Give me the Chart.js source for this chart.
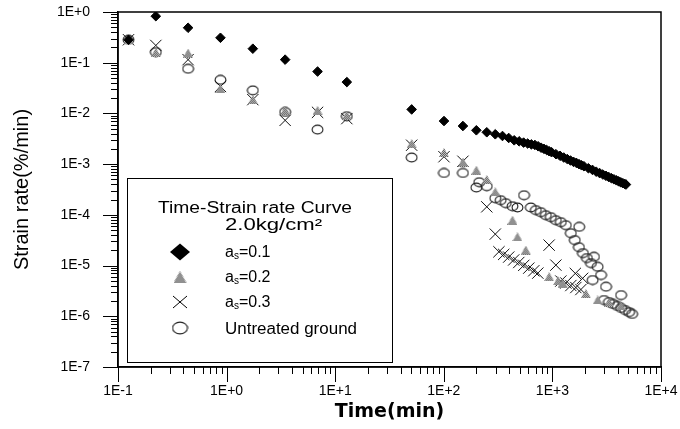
<!DOCTYPE html>
<html>
<head>
<meta charset="utf-8">
<script src="https://cdn.jsdelivr.net/npm/chart.js@4.4.0/dist/chart.umd.min.js"></script>
<style>
  html, body { margin: 0; padding: 0; background: #fff; }
</style>
</head>
<body>
<canvas id="chart" width="680" height="429"></canvas>
<script>
// Time (min) and strain rate (%/min)
var t01 = [0.125, 0.223, 0.442, 0.878, 1.744, 3.46, 6.88, 12.8, 50.6, 100.4, 150, 199.4, 248.7,
  297.9, 347, 396, 445, 494, 543, 592, 641, 690, 739, 787, 836, 885, 933, 982, 1079, 1176, 1273,
  1370, 1467, 1564, 1661, 1758, 1855, 1951, 2145, 2338, 2531, 2724, 2917, 3109, 3302, 3494,
  3687, 3879, 4071, 4263, 4455, 4647, 4758];
var v01 = [0.284, 0.826, 0.489, 0.31, 0.189, 0.115, 0.067, 0.0415, 0.012, 0.00708, 0.00565,
  0.00465, 0.00425, 0.00388, 0.00359, 0.00328, 0.00295, 0.00282, 0.00266, 0.00255, 0.00245,
  0.00239, 0.00225, 0.00211, 0.002, 0.0019, 0.0018, 0.00172, 0.00157, 0.00146, 0.00135,
  0.00126, 0.00118, 0.00111, 0.00106, 0.001, 0.00095, 0.00091, 0.00083, 0.00077, 0.00071,
  0.000665, 0.000624, 0.000589, 0.000557, 0.000528, 0.000502, 0.00048, 0.000458, 0.000438,
  0.000421, 0.000406, 0.000396];

var t02 = [0.125, 0.223, 0.442, 0.878, 1.744, 3.46, 6.88, 12.8, 50.6, 100.4, 150, 199.4, 248.7,
  297.9, 429, 477, 569, 933, 1126, 1240, 2035, 2612, 3320, 4289];
var v02 = [0.284, 0.16, 0.155, 0.031, 0.0187, 0.0115, 0.0115, 0.0092, 0.00255, 0.0017, 0.0011,
  0.00076, 0.000498, 0.000284, 0.0000787, 0.0000369, 0.0000202, 0.00000602, 0.000005,
  0.0000045, 0.0000028, 0.0000021, 0.0000019, 0.0000016];

var t03 = [0.125, 0.223, 0.442, 0.878, 1.744, 3.46, 6.88, 12.8, 50.6, 100.4, 150, 248.7, 297.9,
  322, 356, 396, 440, 490, 545, 606, 674, 734, 933, 1076, 1196, 1330, 1479, 1643, 1829, 1897,
  1626];
var v03 = [0.284, 0.219, 0.115, 0.034, 0.0187, 0.0073, 0.0105, 0.0079, 0.00236, 0.0014,
  0.00114, 0.000144, 0.0000417, 0.0000187, 0.0000166, 0.0000147, 0.0000129, 0.0000115,
  0.0000101, 0.0000089, 0.0000079, 0.0000071, 0.0000253, 0.0000102, 0.00000495, 0.00000453,
  0.00000404, 0.00000369, 0.00000337, 0.0000056, 0.000007];

var tUn = [0.125, 0.223, 0.442, 0.878, 1.744, 3.46, 6.88, 12.8, 50.6, 100.4, 150, 199.4, 212,
  248.7, 297.9, 334, 372, 429, 477, 548, 633, 704, 782, 870, 968, 1076, 1196, 1330, 1766, 1479,
  1608, 1754, 1910, 2079, 2264, 2413, 2612, 2804, 2347, 3117, 4289, 2988, 3320, 3619, 3942,
  4289, 4670, 5086, 5420];
var vUn = [0.284, 0.162, 0.076, 0.046, 0.0285, 0.0107, 0.0048, 0.0088, 0.00135, 0.00067,
  0.00067, 0.000346, 0.00044, 0.000367, 0.000213, 0.000195, 0.00017, 0.000148, 0.00014,
  0.000244, 0.00014, 0.000124, 0.000113, 0.0000986, 0.00009, 0.0000787, 0.0000718, 0.0000627,
  0.0000581, 0.0000436, 0.0000318, 0.0000231, 0.0000176, 0.0000141, 0.0000112, 0.0000149,
  0.00000947, 0.0000065, 0.00000519, 0.00000383, 0.00000262, 0.00000209, 0.00000191,
  0.00000175, 0.0000016, 0.00000146, 0.00000133, 0.00000121, 0.00000111];

var xTickValues = [0.1, 1, 10, 100, 1000, 10000];
var xTickLabels = ["1E-1", "1E+0", "1E+1", "1E+2", "1E+3", "1E+4"];
var yTickValues = [1e-7, 1e-6, 1e-5, 1e-4, 1e-3, 1e-2, 1e-1, 1];
var yTickLabels = ["1E-7", "1E-6", "1E-5", "1E-4", "1E-3", "1E-2", "1E-1", "1E+0"];

function pts(t, v) {
  return t.map(function (x, i) { return { x: x, y: v[i] }; });
}

// small sprites for the grey dotted triangle and the open ellipse
function sprite(w, h, draw) {
  var c = document.createElement("canvas");
  c.width = w; c.height = h;
  draw(c.getContext("2d"), w, h);
  return c;
}
function dotPattern(ctx) {
  var p = sprite(2, 2, function (g) {
    g.fillStyle = "#c0c0c0"; g.fillRect(0, 0, 2, 2);
    g.fillStyle = "#606060"; g.fillRect(0, 0, 1, 1); g.fillRect(1, 1, 1, 1);
  });
  return ctx.createPattern(p, "repeat");
}
function triSprite(w, h) {
  return sprite(w, h, function (g) {
    g.beginPath(); g.moveTo(w / 2, 0); g.lineTo(w, h); g.lineTo(0, h); g.closePath();
    g.fillStyle = dotPattern(g); g.fill();
  });
}
function ellSprite(w, h, lw) {
  return sprite(w, h, function (g) {
    g.beginPath(); g.ellipse(w / 2, h / 2, w / 2 - lw, h / 2 - lw, 0, 0, Math.PI * 2);
    g.strokeStyle = "#222"; g.lineWidth = lw; g.stroke();
  });
}

var triPt = triSprite(10, 9);
var ellPt = ellSprite(13, 11, 1.1);

var axisDeco = {
  id: "axisDeco",
  afterDraw: function (chart) {
    var ctx = chart.ctx, a = chart.chartArea, x = chart.scales.x, y = chart.scales.y;
    ctx.save();
    ctx.strokeStyle = "#000";
    ctx.lineWidth = 1;
    ctx.beginPath();
    for (var e = -1; e <= 4; e++) {
      for (var k = 1; k < 10; k++) {
        if (e === 4 && k > 1) break;
        var px = Math.round(x.getPixelForValue(k * Math.pow(10, e))) + 0.5;
        var len = k === 1 ? 15 : 7;
        ctx.moveTo(px, a.bottom); ctx.lineTo(px, a.bottom + len);
      }
    }
    for (var e2 = -7; e2 <= 0; e2++) {
      for (var k2 = 1; k2 < 10; k2++) {
        if (e2 === 0 && k2 > 1) break;
        var py = Math.round(y.getPixelForValue(k2 * Math.pow(10, e2))) + 0.5;
        var len2 = k2 === 1 ? 15 : 7;
        ctx.moveTo(a.left, py); ctx.lineTo(a.left - len2, py);
      }
    }
    ctx.stroke();
    ctx.lineWidth = 1.5;
    ctx.strokeRect(a.left, a.top, a.right - a.left, a.bottom - a.top);
    ctx.restore();
  }
};

// legend box drawn by hand (subscripts, stretched type as in the figure)
function fitText(ctx, text, x, y, w) {
  var m = ctx.measureText(text).width;
  ctx.save();
  ctx.translate(x, y);
  ctx.scale(w / m, 1);
  ctx.fillText(text, 0, 0);
  ctx.restore();
}
function subLabel(ctx, val, x, y) {
  ctx.font = "16px 'Liberation Sans', Arial, sans-serif";
  ctx.fillText("a", x, y);
  var w = ctx.measureText("a").width;
  ctx.font = "10px 'Liberation Sans', Arial, sans-serif";
  ctx.fillText("s", x + w, y + 2);
  var w2 = ctx.measureText("s").width;
  ctx.font = "16px 'Liberation Sans', Arial, sans-serif";
  ctx.fillText("=" + val, x + w + w2, y);
}

var legendBox = {
  id: "legendBox",
  afterDraw: function (chart) {
    var ctx = chart.ctx;
    ctx.save();
    ctx.fillStyle = "#fff";
    ctx.fillRect(127, 178, 265, 184);
    ctx.strokeStyle = "#000";
    ctx.lineWidth = 1;
    ctx.strokeRect(127.5, 178.5, 265, 184);
    ctx.fillStyle = "#000";
    ctx.textBaseline = "alphabetic";
    ctx.textAlign = "left";
    ctx.font = "16px 'Liberation Sans', Arial, sans-serif";
    fitText(ctx, "Time-Strain rate Curve", 158, 213, 194);
    fitText(ctx, "2.0kg/cm\u00b2", 225, 230, 97);

    var mx = 180;
    // diamond
    ctx.beginPath();
    ctx.moveTo(mx - 10, 252); ctx.lineTo(mx, 243.5); ctx.lineTo(mx + 10, 252); ctx.lineTo(mx, 260.5);
    ctx.closePath(); ctx.fill();
    // triangle
    ctx.drawImage(triSprite(13, 12), mx - 6.5, 271);
    // cross
    ctx.beginPath();
    ctx.moveTo(mx - 7, 296); ctx.lineTo(mx + 7, 308);
    ctx.moveTo(mx + 7, 296); ctx.lineTo(mx - 7, 308);
    ctx.lineWidth = 1; ctx.stroke();
    // circle
    ctx.drawImage(ellSprite(17, 14, 1.1), mx - 8.5, 321);

    ctx.fillStyle = "#000";
    subLabel(ctx, "0.1", 225, 257);
    subLabel(ctx, "0.2", 225, 282);
    subLabel(ctx, "0.3", 225, 307);
    ctx.font = "16px 'Liberation Sans', Arial, sans-serif";
    fitText(ctx, "Untreated ground", 225, 334, 132);
    ctx.restore();
  }
};

var ctx = document.getElementById("chart");
var myChart = new Chart(ctx, {
  type: "scatter",
  data: {
    datasets: [
      {
        label: "as=0.1",
        data: pts(t01, v01),
        pointStyle: "rectRot",
        pointRadius: 4.8,
        backgroundColor: "#000",
        borderColor: "#000",
        borderWidth: 1,
      },
      {
        label: "as=0.2",
        data: pts(t02, v02),
        pointStyle: triPt,
      },
      {
        label: "as=0.3",
        data: pts(t03, v03),
        pointStyle: "crossRot",
        pointRadius: 8,
        borderColor: "#111",
        borderWidth: 1,
      },
      {
        label: "Untreated ground",
        data: pts(tUn, vUn),
        pointStyle: ellPt,
      },
    ],
  },
  options: {
    responsive: false,
    animation: false,
    events: [],
    layout: { padding: { top: 12, right: 19, left: 0, bottom: 0 } },
    plugins: {
      legend: { display: false },
      tooltip: { enabled: false },
    },
    scales: {
      x: {
        type: "logarithmic",
        min: 0.1,
        max: 10000,
        afterFit: function (s) {
          s.height = 62;
          s.paddingLeft = 0;
          s.paddingRight = 0;
        },
        afterBuildTicks: function (s) {
          s.ticks = xTickValues.map(function (v) { return { value: v }; });
        },
        grid: { display: false },
        border: { display: true, color: "#000", width: 1.5 },
        ticks: {
          autoSkip: false,
          maxRotation: 0,
          padding: 8,
          color: "#000",
          font: { family: "'Liberation Sans', Arial, sans-serif", size: 14 },
          callback: function (value, index) { return xTickLabels[index]; },
        },
        title: {
          display: true,
          text: "Time(min)",
          color: "#000",
          padding: { top: 0, bottom: 6 },
          font: { family: "'DejaVu Sans', sans-serif", size: 19, weight: "bold" },
        },
      },
      y: {
        type: "logarithmic",
        min: 1e-7,
        max: 1,
        afterFit: function (s) {
          s.width = 118;
          s.paddingTop = 0;
          s.paddingBottom = 0;
        },
        afterBuildTicks: function (s) {
          s.ticks = yTickValues.map(function (v) { return { value: v }; });
        },
        grid: { display: false },
        border: { display: true, color: "#000", width: 1.5 },
        ticks: {
          autoSkip: false,
          padding: 20,
          color: "#000",
          font: { family: "'Liberation Sans', Arial, sans-serif", size: 14 },
          callback: function (value, index) { return yTickLabels[index]; },
        },
        title: {
          display: true,
          text: "Strain rate(%/min)",
          color: "#000",
          padding: { top: 10, bottom: 0 },
          font: { family: "'Liberation Sans', Arial, sans-serif", size: 20 },
        },
      },
    },
  },
  plugins: [axisDeco, legendBox],
});
</script>
</body>
</html>
